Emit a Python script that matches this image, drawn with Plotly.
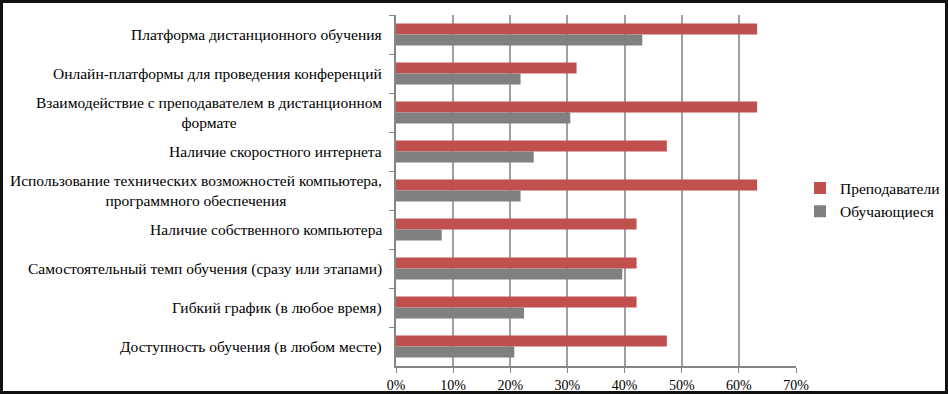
import plotly.graph_objects as go

categories = [
    "Платформа дистанционного обучения",
    "Онлайн-платформы для проведения конференций",
    "Взаимодействие с преподавателем в дистанционном<br>формате",
    "Наличие скоростного интернета",
    "Использование технических возможностей компьютера,<br>программного обеспечения",
    "Наличие собственного компьютера",
    "Самостоятельный темп обучения (сразу или этапами)",
    "Гибкий график (в любое время)",
    "Доступность обучения (в любом месте)",
]
teachers = [63.2, 31.6, 63.2, 47.4, 63.2, 42.1, 42.1, 42.1, 47.4]
students = [43.1, 21.8, 30.5, 24.1, 21.8, 8.0, 39.6, 22.4, 20.7]
x_ticks = [0, 10, 20, 30, 40, 50, 60, 70]

FONT = "'Liberation Serif', 'Times New Roman', 'DejaVu Serif', serif"
W, H = 948, 394
L, R, T, B = 396, 152, 15, 28
pw, ph = W - L - R, H - T - B

fig = go.Figure()
fig.add_trace(go.Bar(y=categories, x=teachers, orientation="h", name="Преподаватели",
                     marker=dict(color="#c0504d", line=dict(width=0))))
fig.add_trace(go.Bar(y=categories, x=students, orientation="h", name="Обучающиеся",
                     marker=dict(color="#808080", line=dict(width=0))))

for c in categories:
    fig.add_annotation(x=0, xref="x", y=c, yref="y", text=c, showarrow=False,
                       xanchor="right", xshift=-12, align="center",
                       font=dict(family=FONT, size=15.5, color="#000000"))

def px(xp):
    return (xp - L) / pw

def py(yp):
    return (H - B - yp) / ph

fig.add_shape(type="rect", xref="paper", yref="paper",
              x0=px(1.5), x1=px(946.5), y0=py(392.5), y1=py(1.5),
              line=dict(color="#111111", width=3), fillcolor="rgba(0,0,0,0)", layer="above")

fig.update_layout(
    width=W, height=H,
    margin=dict(l=L, r=R, t=T, b=B, autoexpand=False),
    barmode="group", bargap=0.44, bargroupgap=0,
    plot_bgcolor="white", paper_bgcolor="white",
    font=dict(family=FONT, size=14, color="#000000"),
    showlegend=True,
    legend=dict(x=px(800), xanchor="left", y=py(200), yanchor="middle",
                font=dict(family=FONT, size=15.5, color="#000000"),
                itemwidth=30, bgcolor="rgba(0,0,0,0)", tracegroupgap=0),
    xaxis=dict(range=[0, 70], tickvals=x_ticks, ticktext=[f"{v}%" for v in x_ticks],
               showgrid=True, gridcolor="#a0a0a0", gridwidth=1.5,
               showline=True, linecolor="#868686", linewidth=1.5,
               ticks="outside", ticklen=5, tickcolor="#868686",
               tickfont=dict(family=FONT, size=14), zeroline=False, fixedrange=True,
               automargin=False),
    yaxis=dict(autorange="reversed", showticklabels=False,
               showline=True, linecolor="#868686", linewidth=1.5,
               ticks="outside", ticklen=5, tickcolor="#868686", tickson="boundaries",
               showgrid=False, fixedrange=True, automargin=False),
)

fig.write_html("out.html", config={"displayModeBar": False},
               post_script="document.body.style.margin='0';document.body.style.overflow='hidden';")
